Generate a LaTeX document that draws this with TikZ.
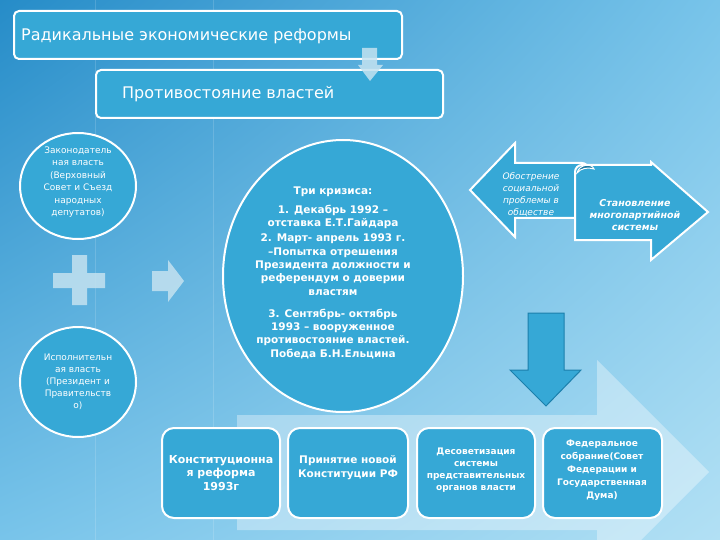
\documentclass[tikz,border=0pt]{standalone}
\usepackage{fontspec}
\setmainfont{DejaVu Sans}
\usetikzlibrary{shadings}
\definecolor{bgTL}{RGB}{38,140,200}
\definecolor{bgTR}{RGB}{120,196,234}
\definecolor{bgBL}{RGB}{120,196,234}
\definecolor{bgBR}{RGB}{178,224,244}
\definecolor{boxblue}{RGB}{54,168,214}
\definecolor{darkblue}{RGB}{28,128,172}
\definecolor{curlblue}{RGB}{30,120,160}
\definecolor{paleblue}{RGB}{196,226,240}
\tikzset{
  bluebox/.style={fill=boxblue, draw=white, line width=2pt, rounded corners=5pt},
  botbox/.style={fill=boxblue, draw=white, line width=2pt, rounded corners=12pt},
  bluecirc/.style={fill=boxblue, draw=white, line width=2pt},
  wtext/.style={text=white, align=center, inner sep=0pt},
  paleshape/.style={fill=paleblue, opacity=0.85},
}
\begin{document}
\begin{tikzpicture}[x=1pt,y=-1pt]
\useasboundingbox (0,0) rectangle (720,540);
\shade[upper left=bgTL, upper right=bgTR, lower left=bgBL, lower right=bgBR] (0,0) rectangle (720,540);
\begin{scope}
\clip (0,0) rectangle (720,540);
% faint vertical lines
\draw[white, opacity=0.15, line width=1pt] (95,0) -- (95,540);
\draw[white, opacity=0.15, line width=1pt] (213,0) -- (213,540);
% big pale arrow at bottom
\fill[white, opacity=0.35] (237,415) -- (597,415) -- (597,360) -- (709,472) -- (597,584) -- (597,530) -- (237,530) -- cycle;
\end{scope}

% top boxes
\draw[bluebox] (14,11) rectangle (402,59);
\node[wtext, anchor=west, font=\fontsize{16}{19}\selectfont] (t1) at (21,36) {Радикальные экономические реформы};
\draw[bluebox] (96,70) rectangle (443,118);
\node[wtext, anchor=west, font=\fontsize{16}{19}\selectfont] (t2) at (122,94) {Противостояние властей};
% small down arrow
\fill[paleshape] (362,48) -- (377,48) -- (377,65) -- (383,65) -- (370,81) -- (358,65) -- (362,65) -- cycle;

% left circles
\draw[bluecirc] (78,186) ellipse [x radius=58, y radius=53];
\node[wtext, font=\fontsize{9}{12.5}\selectfont] (c1) at (78,182) {Законодатель\\ная власть\\(Верховный\\Совет и Съезд\\народных\\депутатов)};
\draw[bluecirc] (78,382) ellipse [x radius=58, y radius=55];
\node[wtext, font=\fontsize{9}{12}\selectfont] (c2) at (78,382) {Исполнительн\\ая власть\\(Президент и\\Правительств\\о)};
% plus sign
\fill[paleshape] (72,255) -- (87,255) -- (87,273) -- (105,273) -- (105,288) -- (87,288) -- (87,305) -- (72,305) -- (72,288) -- (53,288) -- (53,273) -- (72,273) -- cycle;
% right pale arrow
\fill[paleshape] (152,271) -- (168,271) -- (168,260) -- (184,281) -- (168,302) -- (168,291) -- (152,291) -- cycle;

% big circle
\draw[bluecirc] (343,276) ellipse [x radius=120, y radius=136];
\node[wtext, font=\bfseries\fontsize{10.5}{13.3}\selectfont] (big) at (333,273) {Три кризиса:\\[5pt]1. Декабрь 1992 –\\отставка Е.Т.Гайдара\\[2pt]2. Март- апрель 1993 г.\\–Попытка отрешения\\Президента должности и\\референдум о доверии\\властям\\[9pt]3. Сентябрь- октябрь\\1993 – вооруженное\\противостояние властей.\\Победа Б.Н.Ельцина};

% left-pointing arrow
\draw[fill=boxblue, draw=white, line width=2pt, line join=miter] (470,190) -- (515,143) -- (515,163) -- (582,163) to[out=0,in=90] (588,169) -- (588,218) -- (515,218) -- (515,237) -- cycle;
\node[wtext, font=\itshape\fontsize{9}{12}\selectfont] (la) at (531,195) {Обострение\\социальной\\проблемы в\\обществе};
% right-pointing arrow
\draw[fill=boxblue, draw=white, line width=2pt, line join=miter] (575,240) -- (575,172) to[out=90,in=180] (582,165) -- (651,165) -- (651,162) -- (708,212) -- (651,260) -- (651,240) -- cycle;
\fill[curlblue, draw=white, line width=1pt] (577,173) .. controls (579,164) and (592,163) .. (594,169) .. controls (588,167) and (581,168) .. (577,173) -- cycle;
\node[wtext, font=\bfseries\itshape\fontsize{9.5}{12}\selectfont] (ra) at (635,215) {Становление\\многопартийной\\системы};

% big down arrow
\draw[fill=boxblue, draw=darkblue, line width=1pt, line join=miter] (528,313) -- (564,313) -- (564,370) -- (581,370) -- (546,406) -- (510,370) -- (528,370) -- cycle;

% bottom boxes
\draw[botbox] (162,428) rectangle (280,518);
\node[wtext, font=\bfseries\fontsize{11}{13.5}\selectfont] (b1) at (221,473) {Конституционна\\я реформа\\1993г};
\draw[botbox] (288,428) rectangle (408,518);
\node[wtext, font=\bfseries\fontsize{10.5}{14}\selectfont] (b2) at (348,468) {Принятие новой\\Конституции РФ};
\draw[botbox] (417,428) rectangle (535,518);
\node[wtext, font=\bfseries\fontsize{9}{12}\selectfont] (b3) at (476,470) {Десоветизация\\системы\\представительных\\органов власти};
\draw[botbox] (543,428) rectangle (662,518);
\node[wtext, font=\bfseries\fontsize{9}{13}\selectfont] (b4) at (602,470) {Федеральное\\собрание(Совет\\Федерации и\\Государственная\\Дума)};
\end{tikzpicture}
\end{document}
